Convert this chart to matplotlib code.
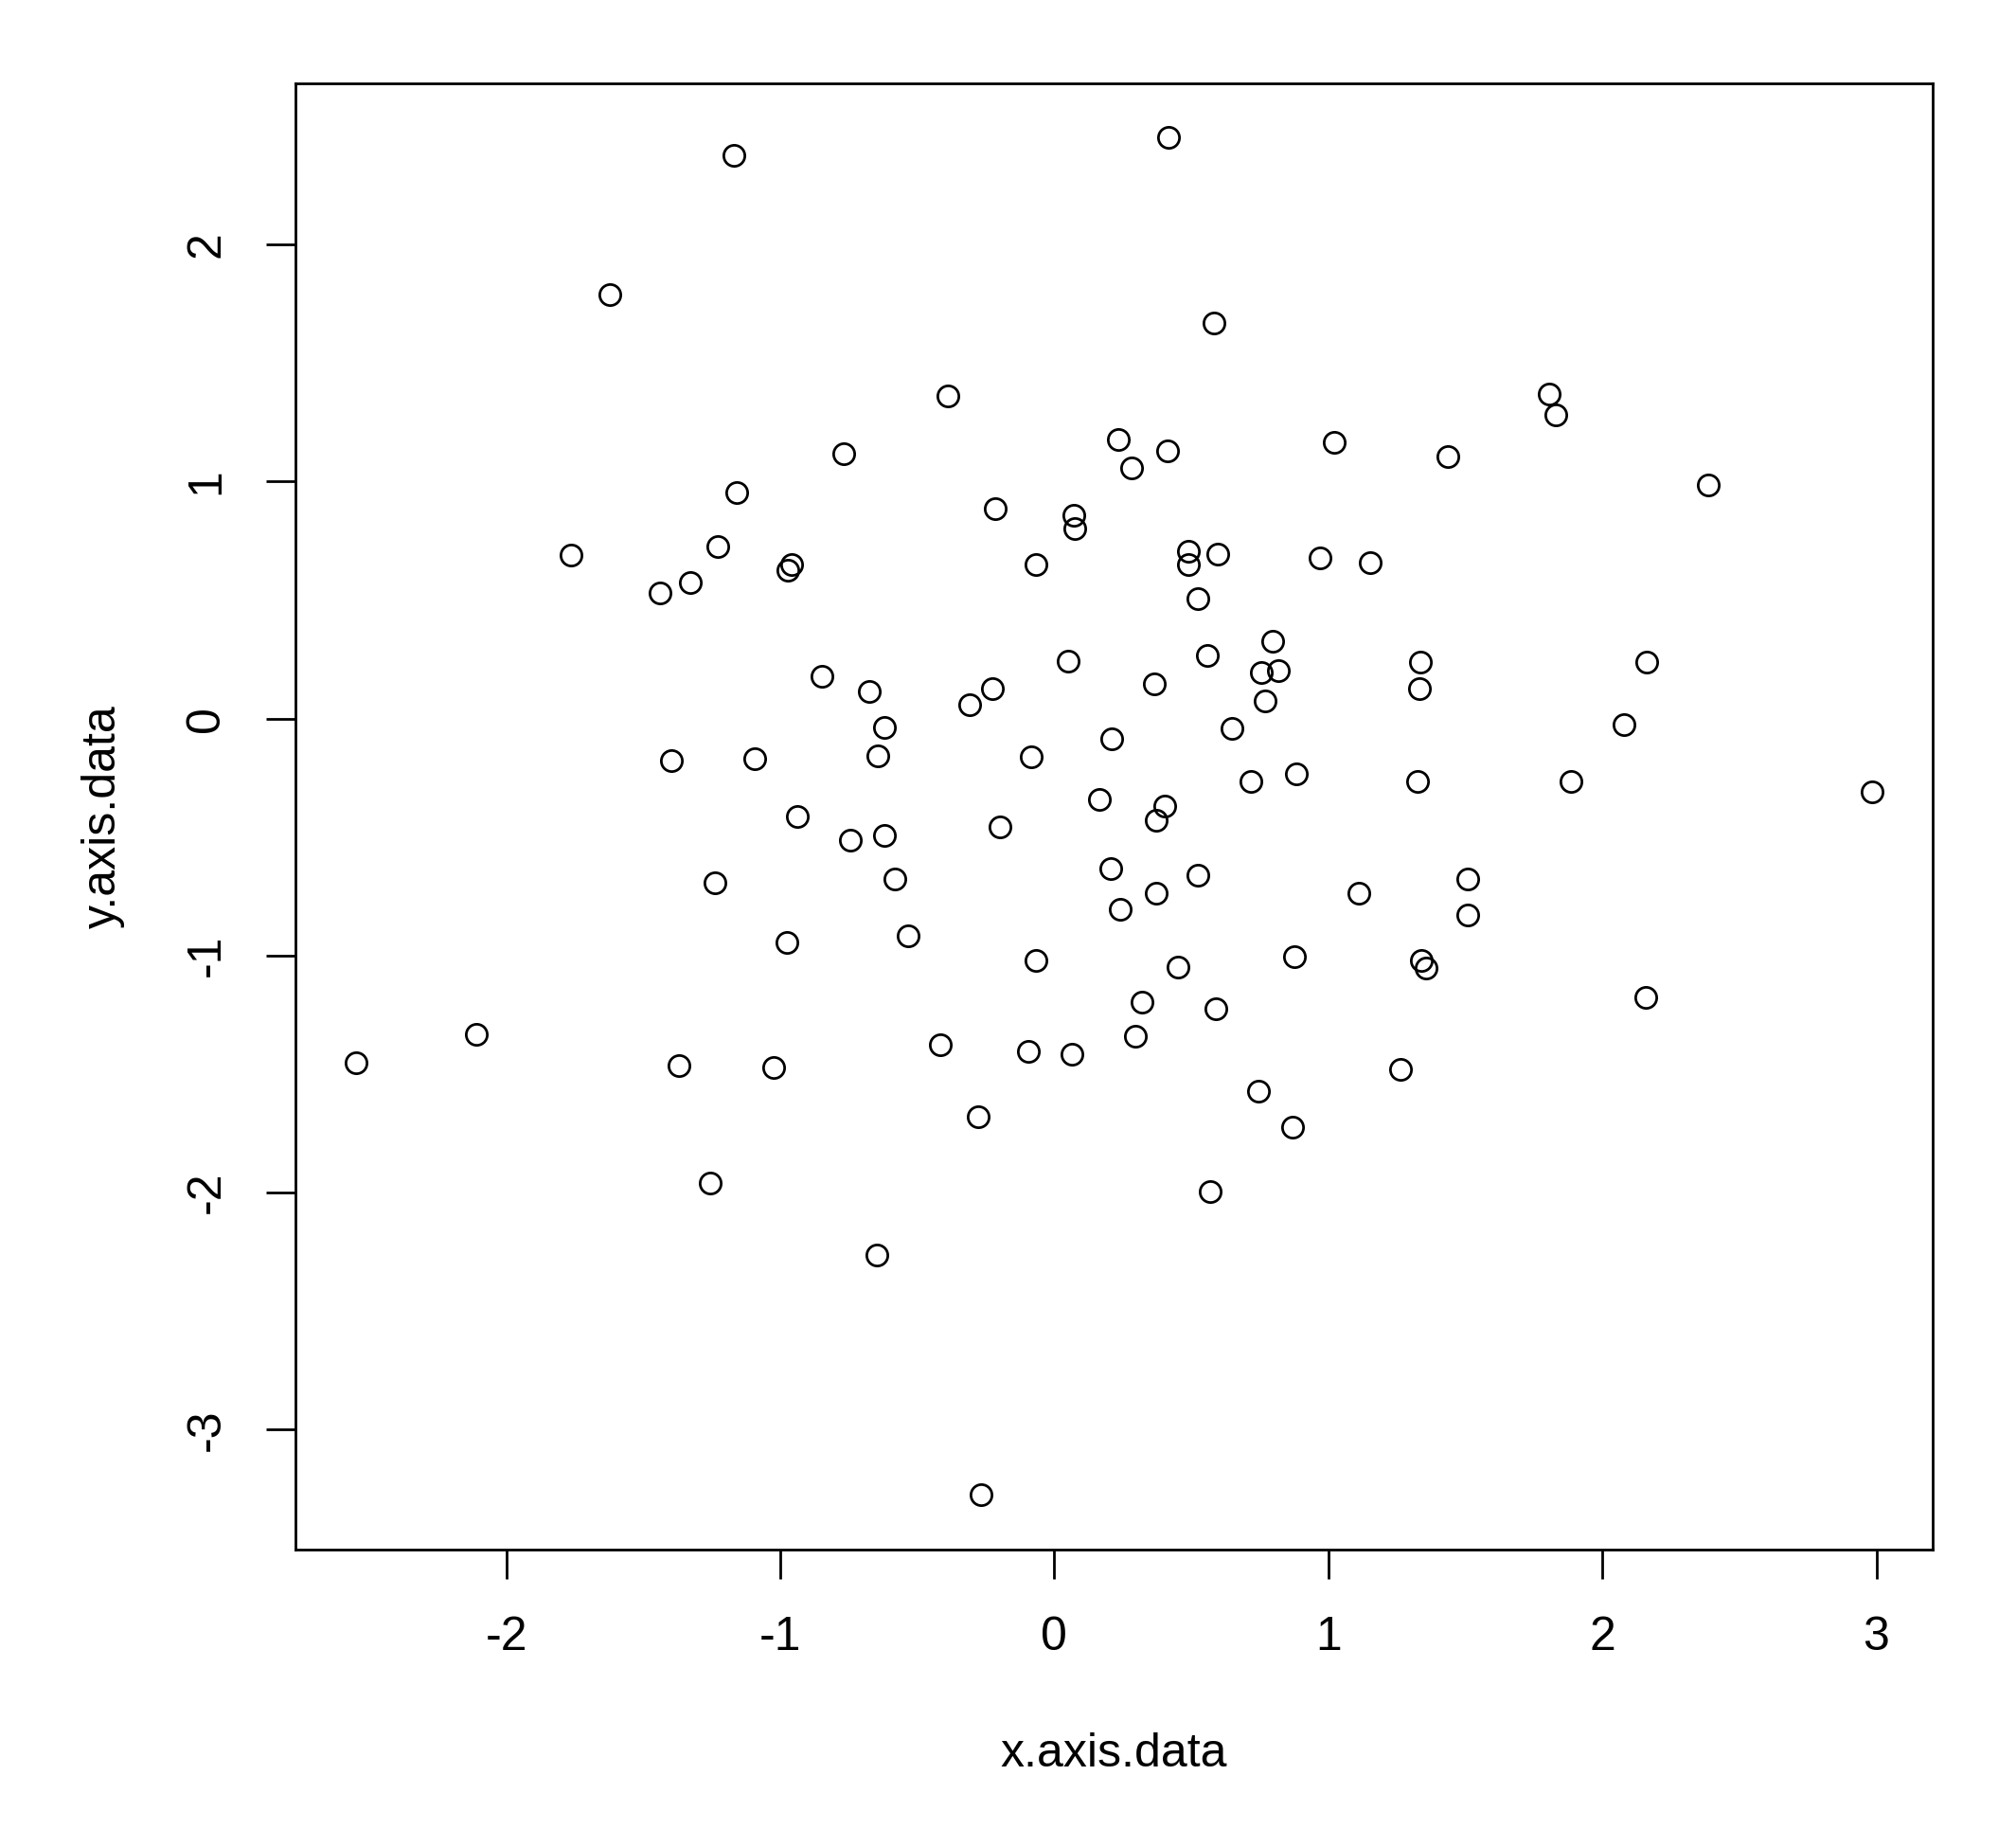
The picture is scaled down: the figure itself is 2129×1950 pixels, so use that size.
import matplotlib
matplotlib.use("Agg")
import matplotlib.pyplot as plt

# values (100 points)
x_axis_data = [
    -2.547, -2.111, -1.764, -1.623, -1.440, -1.398, -1.370, -1.327, -1.257, -1.238,
    -1.229, -1.168, -1.159, -1.093, -1.023, -0.976, -0.971, -0.957, -0.938, -0.849,
    -0.769, -0.746, -0.675, -0.647, -0.643, -0.619, -0.619, -0.582, -0.535, -0.417,
    -0.389, -0.310, -0.277, -0.267, -0.225, -0.216, -0.197, -0.094, -0.084, -0.066,
    -0.066, 0.052, 0.066, 0.070, 0.075, 0.164, 0.206, 0.211, 0.235, 0.239,
    0.281, 0.295, 0.319, 0.366, 0.371, 0.371, 0.403, 0.413, 0.417, 0.450,
    0.488, 0.488, 0.525, 0.525, 0.558, 0.568, 0.582, 0.591, 0.596, 0.647,
    0.718, 0.746, 0.755, 0.769, 0.797, 0.816, 0.868, 0.877, 0.882, 0.971,
    1.023, 1.112, 1.154, 1.262, 1.327, 1.332, 1.337, 1.341, 1.356, 1.435,
    1.510, 1.510, 1.806, 1.829, 1.886, 2.078, 2.158, 2.162, 2.387, 2.983,
]
y_axis_data = [
    -1.453, -1.334, 0.689, 1.790, 0.531, -0.179, -1.464, 0.575, -1.958, -0.694,
    0.727, 2.375, 0.954, -0.168, -1.470, -0.944, 0.624, 0.651, -0.412, 0.179,
    1.117, -0.515, 0.114, -2.261, -0.157, -0.038, -0.493, -0.678, -0.916, -1.377,
    1.361, 0.060, -1.681, -3.275, 0.125, 0.884, -0.456, -1.405, -0.163, 0.651,
    -1.020, 0.244, -1.415, 0.857, 0.803, -0.342, -0.634, -0.087, 1.177, -0.803,
    1.057, -1.339, -1.198, 0.146, -0.428, -0.738, -0.369, 1.128, 2.451, -1.047,
    0.705, 0.651, 0.504, -0.662, 0.266, -1.996, 1.670, -1.226, 0.694, -0.043,
    -0.266, -1.573, 0.195, 0.076, 0.325, 0.201, -1.724, -1.003, -0.233, 0.678,
    1.166, -0.738, 0.656, -1.480, -0.266, 0.125, 0.239, -1.020, -1.052, 1.106,
    -0.678, -0.830, 1.367, 1.280, -0.266, -0.027, -1.177, 0.239, 0.987, -0.309,
]
x_ticks = [-2, -1, 0, 1, 2, 3]
y_ticks = [-3, -2, -1, 0, 1, 2]

plt.rcParams['font.family'] = ['Liberation Sans', 'DejaVu Sans']

fig = plt.figure(figsize=(2129 / 200, 1950 / 200), dpi=200)
ax = fig.add_axes([0.1467, 0.1612, 0.8118, 0.7938])

ax.plot(x_axis_data, y_axis_data, linestyle='none', marker='o', markersize=8.0,
        markerfacecolor='none', markeredgecolor='black', markeredgewidth=1.0)

# R-style 4% padding around data range
def padded(vals):
    lo, hi = min(vals), max(vals)
    d = (hi - lo) * 0.04
    return lo - d, hi + d

ax.set_xlim(*padded(x_axis_data))
ax.set_ylim(*padded(y_axis_data))

ax.set_xticks(x_ticks)
ax.set_yticks(y_ticks)
ax.set_xticklabels([str(t) for t in x_ticks])
ax.set_yticklabels([str(t) for t in y_ticks], rotation=90, va='center')
ax.tick_params(direction='out', length=11, width=1.0, labelsize=18, pad=14.5)

for s in ax.spines.values():
    s.set_linewidth(1.0)

ax.set_xlabel('x.axis.data', fontsize=18, va='baseline')
ax.set_ylabel('y.axis.data', fontsize=18, va='baseline', rotation_mode='anchor')
ax.xaxis.set_label_coords(0.5, -0.1481)
ax.yaxis.set_label_coords(-0.1103, 0.5)

fig.savefig('out.png', dpi=200)
